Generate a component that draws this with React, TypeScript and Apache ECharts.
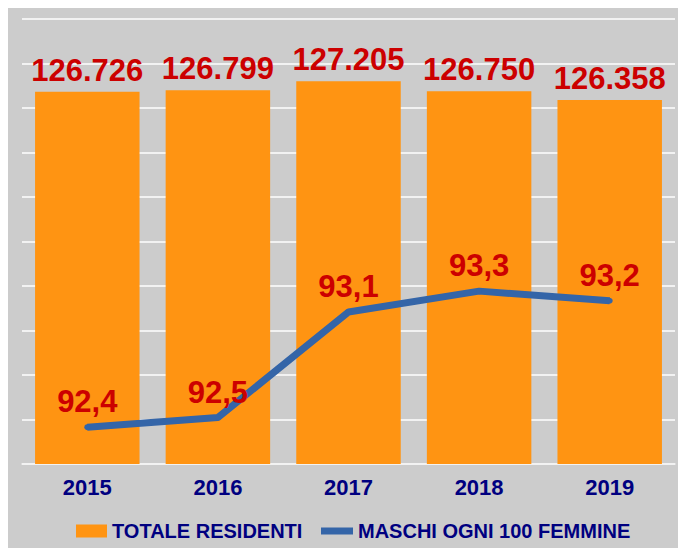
import React, { useEffect, useRef } from "react";
import * as echarts from "echarts";

const years = ["2015", "2016", "2017", "2018", "2019"];
const totaleResidenti = [126726, 126799, 127205, 126750, 126358];
const maschiOgni100Femmine = [92.41, 92.47, 93.13, 93.26, 93.2];

const FONT = "'Liberation Sans', Arial, sans-serif";
const ORANGE = "#FF9412";
const BLUE = "#3465A8";
const RED = "#CC0000";
const NAVY = "#000080";

function fmtThousands(v: number): string {
  return String(Math.round(v)).replace(/\B(?=(\d{3})+(?!\d))/g, ".");
}

export default function App() {
  const ref = useRef<HTMLDivElement>(null);
  useEffect(() => {
    if (!ref.current) return;
    const chart = echarts.init(ref.current, undefined, { renderer: "svg" });
    chart.setOption({
      animation: false,
      backgroundColor: "#CCCCCC",
      grid: { left: 14, right: 3, top: 11, bottom: 84 },
      legend: [
        {
          data: [{ name: "TOTALE RESIDENTI", icon: "rect" }],
          left: 63,
          top: 508,
          itemWidth: 31,
          itemHeight: 13,
          textStyle: { color: NAVY, fontFamily: FONT, fontWeight: "bold", fontSize: 20 },
        },
        {
          data: [{ name: "MASCHI OGNI 100 FEMMINE", icon: "rect" }],
          left: 308,
          top: 508,
          itemWidth: 32,
          itemHeight: 7,
          textStyle: { color: NAVY, fontFamily: FONT, fontWeight: "bold", fontSize: 20 },
        },
      ],
      xAxis: {
        type: "category",
        data: years,
        axisLine: { show: true, lineStyle: { color: "#F2F2F2", width: 1.5 } },
        axisTick: { show: false },
        axisLabel: {
          color: NAVY,
          fontFamily: FONT,
          fontWeight: "bold",
          fontSize: 22,
          margin: 12,
        },
      },
      yAxis: [
        {
          type: "value",
          min: 110000,
          max: 130000,
          interval: 2000,
          axisLabel: { show: false },
          axisLine: { show: false },
          axisTick: { show: false },
          splitLine: { show: true, lineStyle: { color: "#FFFFFF", width: 1.5 } },
        },
        {
          type: "value",
          min: 92.18,
          max: 94.96,
          axisLabel: { show: false },
          axisLine: { show: false },
          axisTick: { show: false },
          splitLine: { show: false },
        },
      ],
      series: [
        {
          name: "TOTALE RESIDENTI",
          type: "bar",
          data: totaleResidenti,
          barCategoryGap: "20%",
          itemStyle: { color: ORANGE },
          label: {
            show: true,
            position: "top",
            distance: 6,
            color: RED,
            fontFamily: FONT,
            fontWeight: "bold",
            fontSize: 31,
            formatter: (p: any) => fmtThousands(p.value),
          },
        },
        {
          name: "MASCHI OGNI 100 FEMMINE",
          type: "line",
          yAxisIndex: 1,
          data: maschiOgni100Femmine,
          symbol: "circle",
          symbolSize: 6,
          showSymbol: true,
          lineStyle: { color: BLUE, width: 7 },
          itemStyle: { color: BLUE },
          z: 5,
          label: {
            show: true,
            position: "top",
            distance: 7,
            color: RED,
            fontFamily: FONT,
            fontWeight: "bold",
            fontSize: 31,
            formatter: (p: any) => Number(p.value).toFixed(1).replace(".", ","),
          },
        },
      ],
    });
    return () => chart.dispose();
  }, []);
  return (
    <div
      ref={ref}
      style={{ position: "absolute", left: 8, top: 8, width: 670, height: 540 }}
    />
  );
}
